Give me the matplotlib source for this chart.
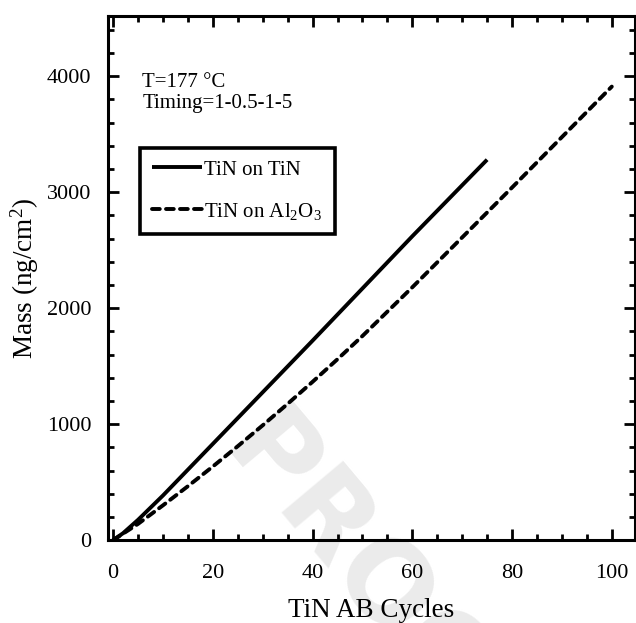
import numpy as np
import matplotlib.pyplot as plt
from matplotlib.ticker import MultipleLocator

plt.rcParams['font.family'] = 'Liberation Serif'
plt.rcParams['mathtext.fontset'] = 'custom'
plt.rcParams['mathtext.rm'] = 'Liberation Serif'
plt.rcParams['mathtext.it'] = 'Liberation Serif:italic'

# data
cycles_tin = [0, 2, 5, 10, 20, 30, 40, 50, 60, 75]
mass_tin = [0, 60, 175, 385, 830, 1275, 1720, 2170, 2620, 3280]

cycles_al2o3 = [0, 5, 10, 15, 20, 25, 30, 35, 40, 45, 50, 60, 70, 80, 90, 100]
mass_al2o3 = [0, 140, 300, 465, 635, 810, 990, 1175, 1365, 1560, 1760,
              2180, 2610, 3040, 3475, 3910]

x_ticks = [0, 20, 40, 60, 80, 100]
y_ticks = [0, 1000, 2000, 3000, 4000]

fig = plt.figure(figsize=(6.36, 6.23), dpi=100)
ax = fig.add_axes([0.170, 0.133, 0.828, 0.841])

ax.plot(cycles_tin, mass_tin, color='black', lw=2.8, solid_capstyle='butt',
        label='TiN on TiN', zorder=3)
ax.plot(cycles_al2o3, mass_al2o3, color='black', lw=2.8, ls=(0, (2.0, 1.6)),
        dash_capstyle='round', label='TiN on Al$_2$O$_3$', zorder=3)

ax.set_xlim(-1.0, 104.6)
ax.set_ylim(0, 4517)
ax.set_xticks(x_ticks)
ax.set_yticks(y_ticks)
ax.xaxis.set_minor_locator(MultipleLocator(5))
ax.yaxis.set_minor_locator(MultipleLocator(200))
ax.tick_params(which='both', direction='in', top=True, right=True,
               width=2.0, labelsize=16, colors='black')
ax.tick_params(which='major', length=8)
ax.tick_params(axis='x', which='major', pad=17)
ax.tick_params(axis='y', which='major', pad=12)
ax.tick_params(which='minor', length=4)
for s in ax.spines.values():
    s.set_linewidth(2.2)

ax.set_xlabel('TiN AB Cycles', fontsize=19.5, labelpad=11)
ax.set_ylabel('Mass (ng/cm$^2$)', fontsize=19.5, labelpad=4)

ax.text(0.065, 0.864, 'T=177 \u00b0C', transform=ax.transAxes, fontsize=15)
ax.text(0.065, 0.824, 'Timing=1-0.5-1-5', transform=ax.transAxes, fontsize=15)

leg = ax.legend(loc='upper left', bbox_to_anchor=(0.06, 0.749), fontsize=15,
                handlelength=2.4, handletextpad=0.1, borderpad=0.6,
                labelspacing=1.0, fancybox=False, framealpha=1,
                edgecolor='black', borderaxespad=0)
leg.get_frame().set_linewidth(2.6)

# faint "PROOF" watermark behind the data
ax.text(0.598, 0.042, 'PROOF', transform=fig.transFigure, fontsize=80,
        family='DejaVu Sans', fontweight='bold', color='#ebebeb',
        rotation=-50, ha='center', va='center', zorder=0, clip_on=False)

fig.savefig('out.png', dpi=100)
